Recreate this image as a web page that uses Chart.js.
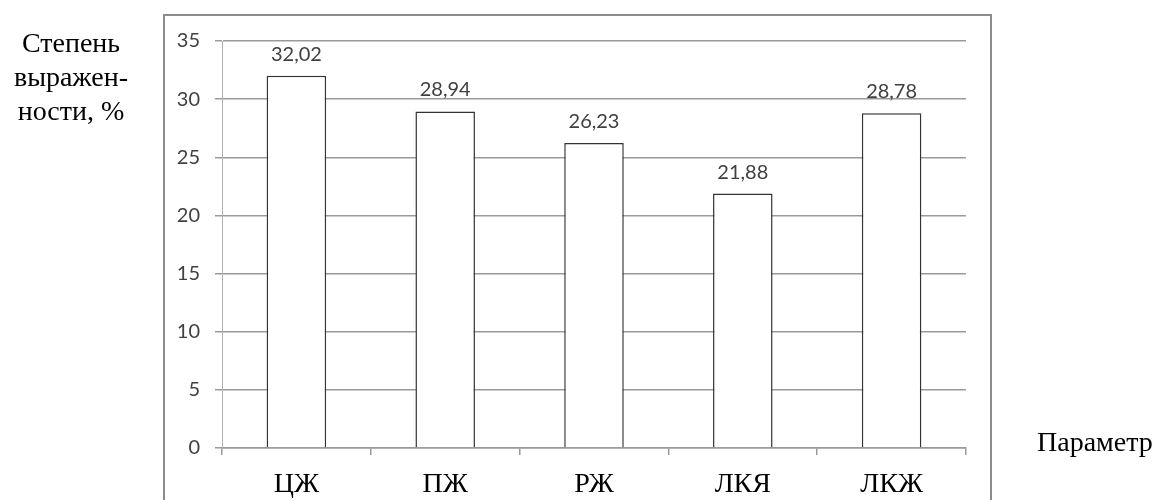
<!DOCTYPE html>
<html>
<head>
<meta charset="utf-8">
<script src="https://cdn.jsdelivr.net/npm/chart.js@4.4.0/dist/chart.umd.min.js"></script>
<style>
  body { margin: 0; background: #fff; }
  #wrap { position: relative; width: 1161px; height: 500px; overflow: hidden; }
  .lbl { position: absolute; font-family: "Liberation Serif", "Times New Roman", serif; color: #000; font-size: 28px; }
  #ylbl { left: 4px; top: 26px; width: 134px; text-align: center; line-height: 34px; }
  #xlbl { left: 1037px; top: 426px; }
</style>
</head>
<body>
<div id="wrap">
  <canvas id="myChart" width="1161" height="500"></canvas>
  <div class="lbl" id="ylbl">Степень<br>выражен-<br>ности, %</div>
  <div class="lbl" id="xlbl">Параметр</div>
</div>
<script>
var categories = ['ЦЖ', 'ПЖ', 'РЖ', 'ЛКЯ', 'ЛКЖ'];
var values = [32.02, 28.94, 26.23, 21.88, 28.78];
var valueLabels = ['32,02', '28,94', '26,23', '21,88', '28,78'];

// outer frame round the chart
var framePlugin = {
    id: 'frame',
    beforeDraw: function(chart) {
        var c = chart.ctx;
        c.save();
        c.strokeStyle = '#8c8c8c';
        c.lineWidth = 2;
        c.strokeRect(164, 15, 827, 500);
        c.restore();
    }
};

// value labels over the bars
var valuePlugin = {
    id: 'values',
    afterDatasetsDraw: function(chart) {
        var c = chart.ctx;
        var meta = chart.getDatasetMeta(0);
        c.save();
        c.font = '20px Lato';
        c.fillStyle = '#404040';
        c.textAlign = 'center';
        c.textBaseline = 'alphabetic';
        for (var i = 0; i < meta.data.length; i++) {
            var bar = meta.data[i];
            c.fillText(valueLabels[i], bar.x, bar.y - 15);
        }
        c.restore();
    }
};

var ctx = document.getElementById('myChart').getContext('2d');
var myChart = new Chart(ctx, {
    type: 'bar',
    data: {
        labels: categories,
        datasets: [{
            data: values,
            backgroundColor: '#ffffff',
            borderColor: '#333333',
            borderWidth: 1.5,
            categoryPercentage: 1.0,
            barPercentage: 0.4
        }]
    },
    options: {
        responsive: false,
        animation: false,
        devicePixelRatio: 1,
        layout: { padding: { left: 163, right: 195, top: 41, bottom: 0 } },
        plugins: { legend: { display: false }, tooltip: { enabled: false } },
        scales: {
            x: {
                grid: { display: true, drawOnChartArea: false, drawTicks: true, tickLength: 7, color: '#999999', lineWidth: 1.5, offset: true },
                border: { display: true, color: '#999999', width: 1.5 },
                ticks: { color: '#000000', font: { family: 'Liberation Serif', size: 28 }, padding: 13 },
                afterFit: function(scale) { scale.height = 52; }
            },
            y: {
                min: 0,
                max: 35,
                ticks: { stepSize: 5, color: '#404040', font: { family: 'Lato', size: 20 }, padding: 15 },
                grid: { color: '#9a9a9a', lineWidth: 1.5, tickLength: 7, drawTicks: true },
                border: { display: true, color: '#b0b0b0', width: 1 },
                afterFit: function(scale) { scale.width = 59; }
            }
        }
    },
    plugins: [framePlugin, valuePlugin]
});
</script>
</body>
</html>
